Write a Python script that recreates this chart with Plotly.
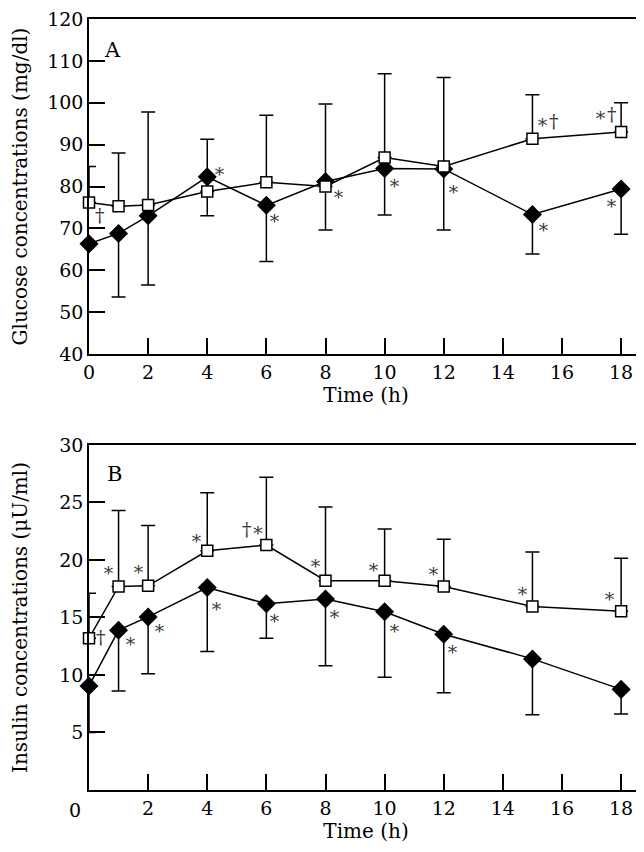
import plotly.graph_objects as go
from plotly.subplots import make_subplots

# sampling times (h)
time_h = [0, 1, 2, 4, 6, 8, 10, 12, 15, 18]

# panel A - glucose (mg/dl)
glu_open = [76.2, 75.3, 75.6, 78.8, 81.0, 80.0, 86.9, 84.8, 91.4, 93.0]
glu_open_up = [8.6, 12.7, 22.2, 0, 16.0, 19.7, 20.0, 21.2, 10.5, 7.0]
glu_open_down = [0, 0, 0, 5.8, 0, 0, 0, 0, 0, 0]
glu_fill = [66.3, 68.8, 73.0, 82.3, 75.5, 81.2, 84.3, 84.2, 73.3, 79.4]
glu_fill_up = [0, 0, 0, 9.0, 0, 0, 0, 0, 0, 0]
glu_fill_down = [0, 15.2, 16.5, 0, 13.4, 11.6, 11.1, 14.6, 9.4, 10.8]

# panel B - insulin (uU/ml)
ins_open = [13.2, 17.7, 17.75, 20.8, 21.3, 18.2, 18.2, 17.7, 15.95, 15.55]
ins_open_up = [3.9, 6.6, 5.25, 5.05, 5.9, 6.4, 4.5, 4.1, 4.75, 4.6]
ins_fill = [9.05, 13.9, 15.05, 17.6, 16.2, 16.6, 15.5, 13.55, 11.4, 8.75]
ins_fill_down = [4.05, 5.3, 4.95, 5.55, 3.0, 5.8, 5.7, 5.1, 4.85, 2.15]

# significance marks
glu_mark_text = ["†", "∗", "∗", "∗", "∗", "∗", "∗†", "∗", "∗†", "∗"]
glu_mark_x = [0.37, 4.4, 6.27, 8.43, 10.32, 12.32, 15.5, 15.37, 17.45, 17.66]
glu_mark_y = [73.3, 84.0, 72.7, 78.4, 81.0, 79.6, 95.6, 70.6, 97.3, 76.2]

ins_mark_text = ["†", "∗", "∗", "∗", "∗", "∗", "∗", "†∗", "∗", "∗", "∗", "∗",
                 "∗", "∗", "∗", "∗", "∗"]
ins_mark_x = [0.41, 0.65, 1.39, 1.69, 2.38, 3.62, 4.31, 5.56, 6.29, 7.67, 8.32,
              9.64, 10.32, 11.66, 12.3, 14.66, 17.6]
ins_mark_y = [13.3, 19.2, 13.0, 19.3, 14.2, 22.0, 16.05, 22.7, 15.0, 19.8, 15.4,
              19.45, 14.17, 19.1, 12.35, 17.4, 16.97]

FONT = "DejaVu Serif"

fig = make_subplots(rows=2, cols=1)


def add_series(row, y, up, down, symbol):
    filled = symbol == "diamond"
    fig.add_trace(go.Scatter(
        x=time_h, y=y, mode="lines+markers", cliponaxis=False,
        line=dict(color="black", width=1.5),
        marker=dict(symbol=symbol, size=13 if filled else 11,
                    color="black" if filled else "white",
                    line=dict(color="black", width=1.5)),
        error_y=dict(type="data", symmetric=False, array=up, arrayminus=down,
                     color="black", thickness=1.5, width=7),
        showlegend=False), row=row, col=1)


add_series(1, glu_fill, glu_fill_up, glu_fill_down, "diamond")
add_series(1, glu_open, glu_open_up, glu_open_down, "square")
add_series(2, ins_fill, [0] * len(time_h), ins_fill_down, "diamond")
add_series(2, ins_open, ins_open_up, [0] * len(time_h), "square")

for row, texts, xs, ys in [(1, glu_mark_text, glu_mark_x, glu_mark_y),
                           (2, ins_mark_text, ins_mark_x, ins_mark_y)]:
    for t, x, y in zip(texts, xs, ys):
        fig.add_annotation(x=x, y=y, text=t, showarrow=False,
                           font=dict(family=FONT, size=19, color="#3a3a3a"),
                           row=row, col=1)

fig.add_annotation(x=0.8, y=112.5, text="A", showarrow=False,
                   font=dict(family=FONT, size=21, color="black"), row=1, col=1)
fig.add_annotation(x=0.86, y=27.45, text="B", showarrow=False,
                   font=dict(family=FONT, size=21, color="black"), row=2, col=1)
# the zero on the lower time axis sits left of the corner
fig.add_annotation(xref="paper", yref="paper", x=0, y=0, xshift=-14, yshift=-20,
                   xanchor="center", yanchor="middle",
                   text="0", showarrow=False,
                   font=dict(family=FONT, size=19, color="black"))

axis_style = dict(showline=True, mirror=True, linecolor="black", linewidth=1.5,
                  ticks="inside", ticklen=16, tickwidth=1.5, tickcolor="black",
                  showgrid=False, zeroline=False, automargin=False,
                  ticklabeloverflow="allow",
                  tickfont=dict(family=FONT, size=19, color="black"),
                  title_font=dict(family=FONT, size=20, color="black"))

fig.update_xaxes(range=[0, 18.74], **axis_style)
fig.update_yaxes(**axis_style)
fig.update_xaxes(tickvals=list(range(0, 19, 2)), title_text="Time (h)",
                 title_standoff=6, row=1, col=1)
fig.update_xaxes(tickvals=list(range(2, 19, 2)), title_text="Time (h)",
                 title_standoff=6, row=2, col=1)
fig.update_yaxes(range=[40, 120], tickvals=list(range(40, 121, 10)),
                 domain=[0.5655, 1.0],
                 title_text="Glucose concentrations (mg/dl)", title_standoff=33,
                 row=1, col=1)
fig.update_yaxes(range=[0, 30], tickvals=list(range(5, 31, 5)),
                 domain=[0.0, 0.4475],
                 title_text="Insulin concentrations (μU/ml)", title_standoff=33,
                 row=2, col=1)

# page body adds an 8px margin, so the figure is sized to fit inside it
fig.update_layout(width=636, height=844, plot_bgcolor="white",
                  paper_bgcolor="white",
                  margin=dict(l=81, r=1, t=11, b=62))

fig.write_html("out.html")
